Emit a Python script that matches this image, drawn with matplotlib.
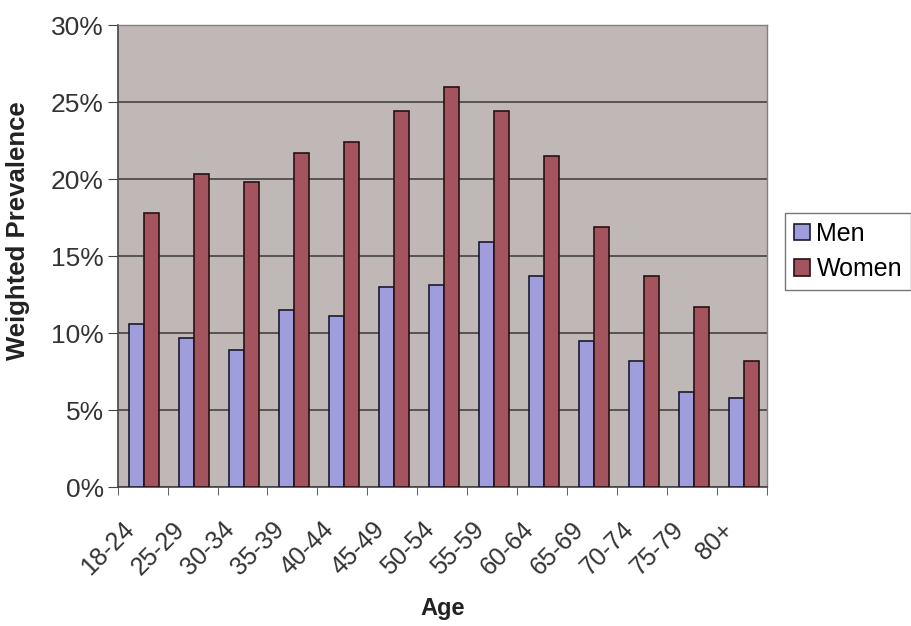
import numpy as np
import matplotlib
matplotlib.use('Agg')
import matplotlib.pyplot as plt
from matplotlib.ticker import FixedLocator, PercentFormatter

# === DATA ===
ages = ['18-24', '25-29', '30-34', '35-39', '40-44', '45-49', '50-54',
        '55-59', '60-64', '65-69', '70-74', '75-79', '80+']
men = [10.6, 9.7, 8.9, 11.5, 11.1, 13.0, 13.1, 15.9, 13.7, 9.5, 8.2, 6.2, 5.8]
women = [17.8, 20.3, 19.8, 21.7, 22.4, 24.4, 26.0, 24.4, 21.5, 16.9, 13.7, 11.7, 8.2]

# === SETUP PLOT ===
plt.rcParams['font.family'] = ['Liberation Sans', 'DejaVu Sans']
fig = plt.figure(figsize=(9.12, 6.26), dpi=100)
ax = fig.add_axes([0.129, 0.222, 0.712, 0.738])
ax.set_facecolor('#c0b8b6')

x = np.arange(len(ages))
w = 0.3
ax.bar(x - w / 2 + 0.03, men, w, color='#9f9ddc', edgecolor='#1a1a30', linewidth=1.2,
       label='Men', zorder=3)
ax.bar(x + w / 2 + 0.03, women, w, color='#a4545f', edgecolor='#2a1010', linewidth=1.2,
       label='Women', zorder=3)

ax.set_xlim(-0.5, len(ages) - 0.5)
ax.set_ylim(0, 30)
ax.set_yticks(np.arange(0, 31, 5))
ax.yaxis.set_major_formatter(PercentFormatter(decimals=0))
ax.yaxis.grid(True, color='#3a3a3a', linewidth=1.1, zorder=1)
ax.set_axisbelow(True)

# labels sit a little left of the category centre (excel style), tick marks at the boundaries
ax.set_xticks(x - 0.24)
ax.set_xticklabels(ages, rotation=45, ha='right', va='center', rotation_mode='anchor')
ax.xaxis.set_minor_locator(FixedLocator(np.arange(-0.5, len(ages), 1)))
ax.tick_params(axis='x', which='major', length=0, pad=28, labelsize=18, colors='#333333')
ax.tick_params(axis='x', which='minor', length=6, direction='out', color='#444444')
ax.tick_params(axis='y', length=7, direction='out', labelsize=19, colors='#333333',
               color='#444444', pad=3)

for s in ['left', 'bottom']:
    ax.spines[s].set_color('#444444')
    ax.spines[s].set_linewidth(1.2)
for s in ['top', 'right']:
    ax.spines[s].set_color('#808080')
    ax.spines[s].set_linewidth(1.0)

ax.set_xlabel('Age', fontsize=17, fontweight='bold', color='#222222', labelpad=12)
ax.set_ylabel('Weighted Prevalence', fontsize=18.5, fontweight='bold', color='#222222')
ax.yaxis.set_label_coords(-0.135, 0.555)

leg = ax.legend(loc='center left', bbox_to_anchor=(1.028, 0.51), fontsize=18,
                frameon=True, fancybox=False, edgecolor='#555555', handlelength=0.65,
                handleheight=0.65, handletextpad=0.25, borderpad=0.35, labelspacing=0.45,
                borderaxespad=0)
leg.get_frame().set_linewidth(1.0)

fig.savefig('out.png', dpi=100)
